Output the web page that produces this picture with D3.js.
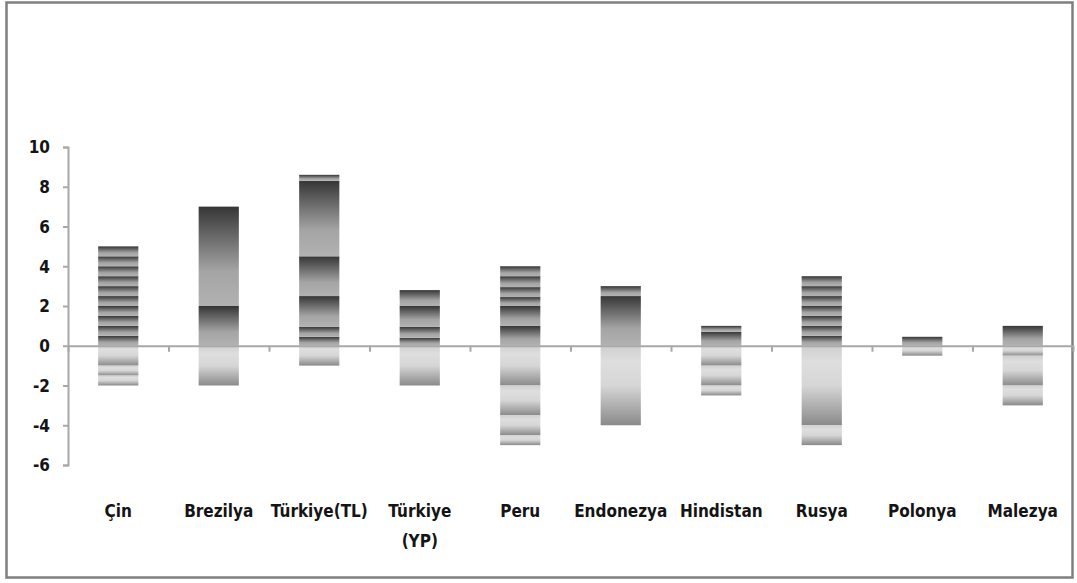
<!DOCTYPE html>
<html lang="tr">
<head>
  <meta charset="UTF-8">
  <title>Stacked bars</title>
  <script src="https://d3js.org/d3.v7.min.js"></script>
  <style>
    body { margin: 0; background: #fff; }
    .lbl { font-family: "Liberation Sans Narrow", "DejaVu Sans Condensed", sans-serif; font-weight: bold; font-size: 17px; fill: #141414; }
    .axis path, .axis line { stroke: #a8a8a8; stroke-width: 2px; }
  </style>
</head>
<body>
  <div id="chart"></div>
  <script>
    const categories = ["Çin", "Brezilya", "Türkiye(TL)", "Türkiye\n(YP)", "Peru",
      "Endonezya", "Hindistan", "Rusya", "Polonya", "Malezya"];

    // stacked pieces above zero, from the axis upward
    const positiveParts = [
      [0.5, 0.5, 0.5, 0.5, 0.5, 0.5, 0.5, 0.5, 0.5, 0.5],
      [2, 5],
      [0.45, 0.5, 1.55, 2.0, 3.8, 0.3],
      [0.4, 0.55, 1.05, 0.8],
      [1, 1, 0.45, 0.5, 0.55, 0.5],
      [2.5, 0.5],
      [0.7, 0.3],
      [0.5, 0.5, 0.5, 0.5, 0.5, 0.5, 0.5],
      [0.45],
      [1]
    ];

    // stacked pieces below zero, from the axis downward
    const negativeParts = [
      [-1, -0.5, -0.5],
      [-2],
      [-1],
      [-2],
      [-2, -1.5, -1, -0.5],
      [-4],
      [-1, -1, -0.5],
      [-4, -1],
      [-0.5],
      [-0.5, -1.5, -1]
    ];

    const yTicks = [-6, -4, -2, 0, 2, 4, 6, 8, 10];

    const W = 1077, H = 583;
    const margin = { top: 147, right: 4, bottom: 118, left: 68 };
    const width = 1073 - margin.left;
    const height = H - margin.top - margin.bottom;

    const svg = d3.select("#chart").append("svg")
      .attr("width", W)
      .attr("height", H);

    // outer frame
    svg.append("rect")
      .attr("x", 6.5).attr("y", 2.5)
      .attr("width", 1066).attr("height", 575)
      .attr("fill", "none")
      .attr("stroke", "#7f7f7f")
      .attr("stroke-width", 2.5);

    const defs = svg.append("defs");
    const gPos = defs.append("linearGradient").attr("id", "gPos")
      .attr("x1", 0).attr("y1", 0).attr("x2", 0).attr("y2", 1);
    gPos.append("stop").attr("offset", "0%").attr("stop-color", "#363636");
    gPos.append("stop").attr("offset", "65%").attr("stop-color", "#a4a4a4");
    gPos.append("stop").attr("offset", "100%").attr("stop-color", "#b2b2b2");

    const gNeg = defs.append("linearGradient").attr("id", "gNeg")
      .attr("x1", 0).attr("y1", 0).attr("x2", 0).attr("y2", 1);
    gNeg.append("stop").attr("offset", "0%").attr("stop-color", "#cfcfcf");
    gNeg.append("stop").attr("offset", "20%").attr("stop-color", "#dedede");
    gNeg.append("stop").attr("offset", "50%").attr("stop-color", "#d6d6d6");
    gNeg.append("stop").attr("offset", "100%").attr("stop-color", "#8a8a8a");

    const g = svg.append("g")
      .attr("transform", `translate(${margin.left},${margin.top})`);

    const x = d3.scaleBand()
      .domain(d3.range(categories.length))
      .range([0, width])
      .paddingInner(0.6)
      .paddingOuter(0.3);

    const xEdge = d3.scaleLinear()
      .domain([0, categories.length])
      .range([0, width]);

    const y = d3.scaleLinear()
      .domain([-6, 10])
      .range([height, 0]);

    // build stacked segments from the part arrays
    const segments = [];
    categories.forEach((c, i) => {
      let base = 0;
      positiveParts[i].forEach(v => {
        segments.push({ i, y0: base, y1: base + v, sign: 1 });
        base += v;
      });
      base = 0;
      negativeParts[i].forEach(v => {
        segments.push({ i, y0: base, y1: base + v, sign: -1 });
        base += v;
      });
    });

    g.selectAll(".seg")
      .data(segments)
      .enter()
      .append("rect")
      .attr("class", "seg")
      .attr("x", d => x(d.i))
      .attr("width", x.bandwidth())
      .attr("y", d => y(Math.max(d.y0, d.y1)))
      .attr("height", d => Math.abs(y(d.y0) - y(d.y1)))
      .attr("fill", d => d.sign > 0 ? "url(#gPos)" : "url(#gNeg)");

    // y axis
    const yAxis = g.append("g")
      .attr("class", "axis")
      .call(d3.axisLeft(y).tickValues(yTicks).tickSize(5).tickPadding(13)
        .tickFormat(d => String(d)));
    yAxis.selectAll("text").attr("class", "lbl").attr("dy", "0.35em");

    // x axis through zero with ticks on category boundaries
    g.append("g")
      .attr("class", "axis")
      .attr("transform", `translate(0,${y(0)})`)
      .call(d3.axisBottom(xEdge).tickValues(d3.range(categories.length + 1))
        .tickSize(6).tickSizeOuter(0).tickFormat(""));

    // category labels at the bottom
    const labels = g.selectAll(".cat")
      .data(categories)
      .enter()
      .append("text")
      .attr("class", "lbl")
      .attr("text-anchor", "middle")
      .attr("transform", (d, i) => `translate(${x(i) + x.bandwidth() / 2},${height + 52})`);

    labels.selectAll("tspan")
      .data(d => d.split("\n"))
      .enter()
      .append("tspan")
      .attr("x", 0)
      .attr("dy", (d, j) => j === 0 ? 0 : 30)
      .text(d => d);
  </script>
</body>
</html>
